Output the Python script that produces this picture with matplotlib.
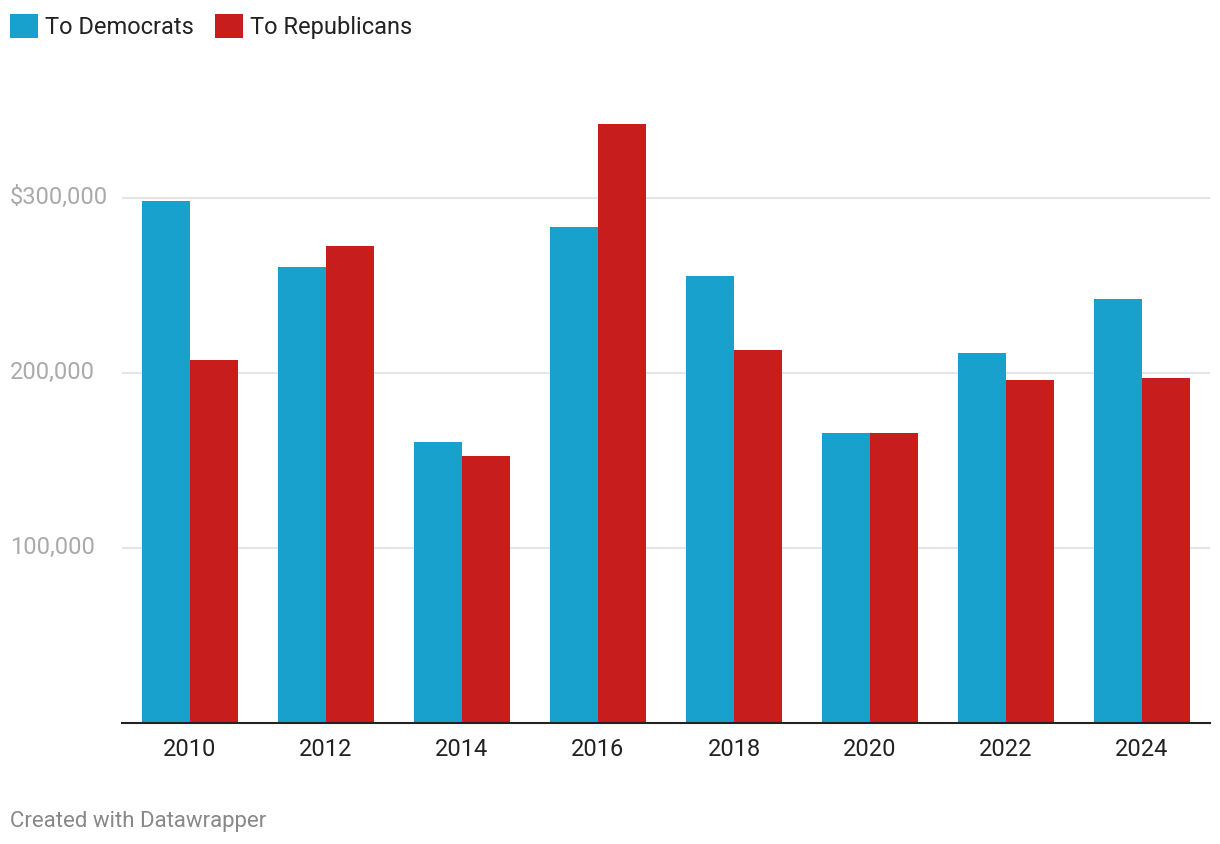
import numpy as np
import matplotlib
matplotlib.use('Agg')
import matplotlib.pyplot as plt
from matplotlib.transforms import blended_transform_factory

plt.rcParams['font.family'] = ['Roboto', 'DejaVu Sans']

# datos
anios = ['2010', '2012', '2014', '2016', '2018', '2020', '2022', '2024']
democratas = [298000, 260500, 160500, 283000, 255000, 165500, 211000, 242000]
republicanos = [207000, 272500, 152500, 342000, 213000, 165500, 196000, 197000]
ticks_y = [100000, 200000, 300000]
etiquetas_y = ['100,000', '200,000', '$300,000']

azul = '#18a1cd'
rojo = '#c71e1d'

W, H = 1220, 844
fig = plt.figure(figsize=(W / 100, H / 100), dpi=100)
ax = fig.add_axes([122 / W, (H - 722.5) / H, 1088 / W, (722.5 - 110) / H])

x = np.arange(len(anios))
ancho = 0.35
b1 = ax.bar(x - ancho / 2, democratas, ancho, color=azul, label='To Democrats', zorder=3)
b2 = ax.bar(x + ancho / 2, republicanos, ancho, color=rojo, label='To Republicans', zorder=3)

ax.set_xlim(-0.5, len(anios) - 0.5)
ax.set_ylim(0, 350000)
ax.set_xticks(x)
ax.set_xticklabels(anios, fontsize=17, color='#222222')
ax.tick_params(axis='x', length=0, pad=11)
ax.set_yticks([])

for s in ['top', 'right', 'left']:
    ax.spines[s].set_visible(False)
ax.spines['bottom'].set_color('#222222')
ax.spines['bottom'].set_linewidth(1.5)
ax.spines['bottom'].set_zorder(4)

for v in ticks_y:
    ax.axhline(v, color='#e5e5e5', linewidth=1.5, zorder=1)

trans = blended_transform_factory(fig.transFigure, ax.transData)
for v, txt in zip(ticks_y, etiquetas_y):
    ax.text(10 / W, v, txt, transform=trans, ha='left', va='center',
            fontsize=17, color='#aaaaaa', clip_on=False)

fig.legend(handles=[b1, b2], loc='upper left',
           bbox_to_anchor=(10 / W, 1 - 14 / H), borderaxespad=0, borderpad=0,
           frameon=False, ncol=2, fontsize=17, handlelength=1.19, handleheight=1.19,
           handletextpad=0.3, columnspacing=0.9, labelcolor='#222222')

fig.text(10 / W, 1 - 821 / H, 'Created with Datawrapper', ha='left', va='center',
         fontsize=16, color='#888888')

fig.savefig('out.png', dpi=100)
